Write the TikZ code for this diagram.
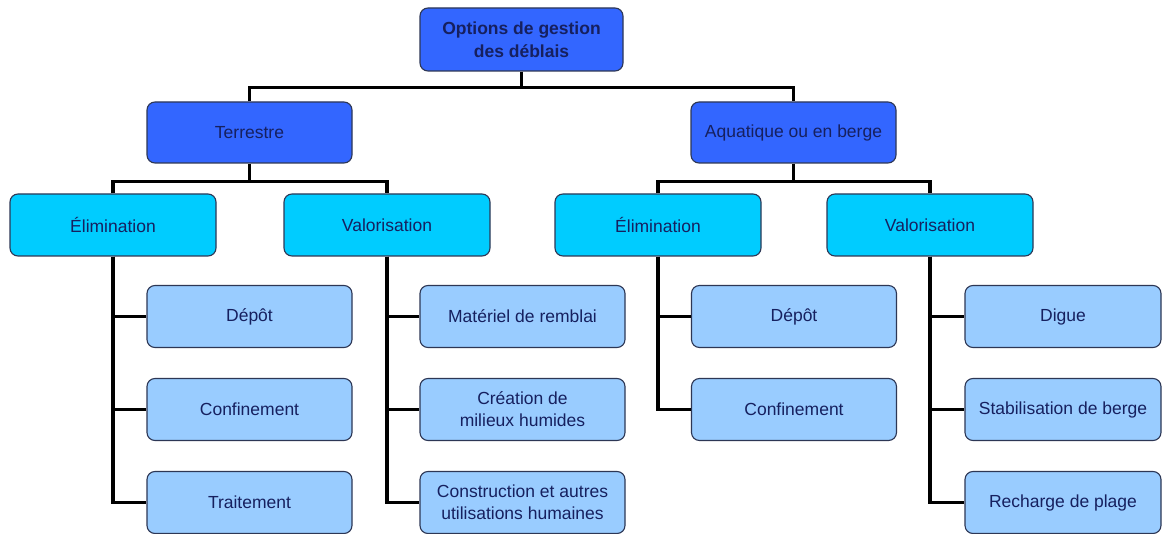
\documentclass[tikz,border=0pt]{standalone}
\usepackage{fontspec}
\setmainfont{Liberation Sans}
\definecolor{topblue}{RGB}{51,102,255}
\definecolor{midcyan}{RGB}{0,204,255}
\definecolor{leafblue}{RGB}{153,204,255}
\definecolor{edgecol}{RGB}{45,55,85}
\definecolor{txtcol}{RGB}{22,32,95}
\begin{document}
\begin{tikzpicture}[x=1pt,y=1pt,
  box/.style={draw=edgecol,line width=1.1pt,rounded corners=8pt,inner sep=0pt,
    align=center,text=txtcol,font=\fontsize{17.5}{22}\selectfont},
  lvlA/.style={box,fill=topblue,minimum width=203pt,minimum height=63pt,font=\fontsize{17.5}{23}\selectfont\bfseries},
  lvlB/.style={box,fill=topblue,minimum width=205pt,minimum height=61pt},
  lvlC/.style={box,fill=midcyan,minimum width=206pt,minimum height=62pt},
  leaf/.style={box,fill=leafblue,minimum width=205pt,minimum height=62pt},
  leafR/.style={box,fill=leafblue,minimum width=196pt,minimum height=62pt},
  conn/.style={draw=black,line width=3.1pt}]
\useasboundingbox (0,0) rectangle (1163,-534);
\fill[white] (0,0) rectangle (1163,-534);
% nodes
\node[lvlA] (root) at (521.5,-39.5) {Options de gestion\\des déblais};
\node[lvlB] (terr) at (249.5,-132.5) {Terrestre};
\node[lvlB] (aqua) at (793.5,-132.5) {Aquatique ou en berge};
\node[lvlC] (elimL) at (113,-225) {Élimination};
\node[lvlC] (valL) at (387,-225) {Valorisation};
\node[lvlC] (elimR) at (658,-225) {Élimination};
\node[lvlC] (valR) at (930,-225) {Valorisation};
\node[leaf] (depL) at (249.5,-316.5) {Dépôt};
\node[leaf] (confL) at (249.5,-409.5) {Confinement};
\node[leaf] (traitL) at (249.5,-502.5) {Traitement};
\node[leaf] (mat) at (522.5,-316.5) {Matériel de remblai};
\node[leaf] (crea) at (522.5,-409.5) {Création de\\milieux humides};
\node[leaf] (cons) at (522.5,-502.5) {Construction et autres\\utilisations humaines};
\node[leaf] (depR) at (794,-316.5) {Dépôt};
\node[leaf] (confR) at (794,-409.5) {Confinement};
\node[leafR] (dig) at (1063,-316.5) {Digue};
\node[leafR] (stab) at (1063,-409.5) {Stabilisation de berge};
\node[leafR] (rech) at (1063,-502.5) {Recharge de plage};
% connectors
\draw[conn] (root.south) -- ++(0,-17);
\draw[conn] (terr.north) -- ++(0,14) -| (aqua.north);
\draw[conn] (terr.south) -- ++(0,-19);
\draw[conn] (elimL.north) -- ++(0,12) -| (valL.north);
\draw[conn] (aqua.south) -- ++(0,-19);
\draw[conn] (elimR.north) -- ++(0,12) -| (valR.north);
\draw[conn] (elimL.south) |- (depL.west);
\draw[conn] (elimL.south) |- (confL.west);
\draw[conn] (elimL.south) |- (traitL.west);
\draw[conn] (valL.south) |- (mat.west);
\draw[conn] (valL.south) |- (crea.west);
\draw[conn] (valL.south) |- (cons.west);
\draw[conn] (elimR.south) |- (depR.west);
\draw[conn] (elimR.south) |- (confR.west);
\draw[conn] (valR.south) |- (dig.west);
\draw[conn] (valR.south) |- (stab.west);
\draw[conn] (valR.south) |- (rech.west);
\end{tikzpicture}
\end{document}
